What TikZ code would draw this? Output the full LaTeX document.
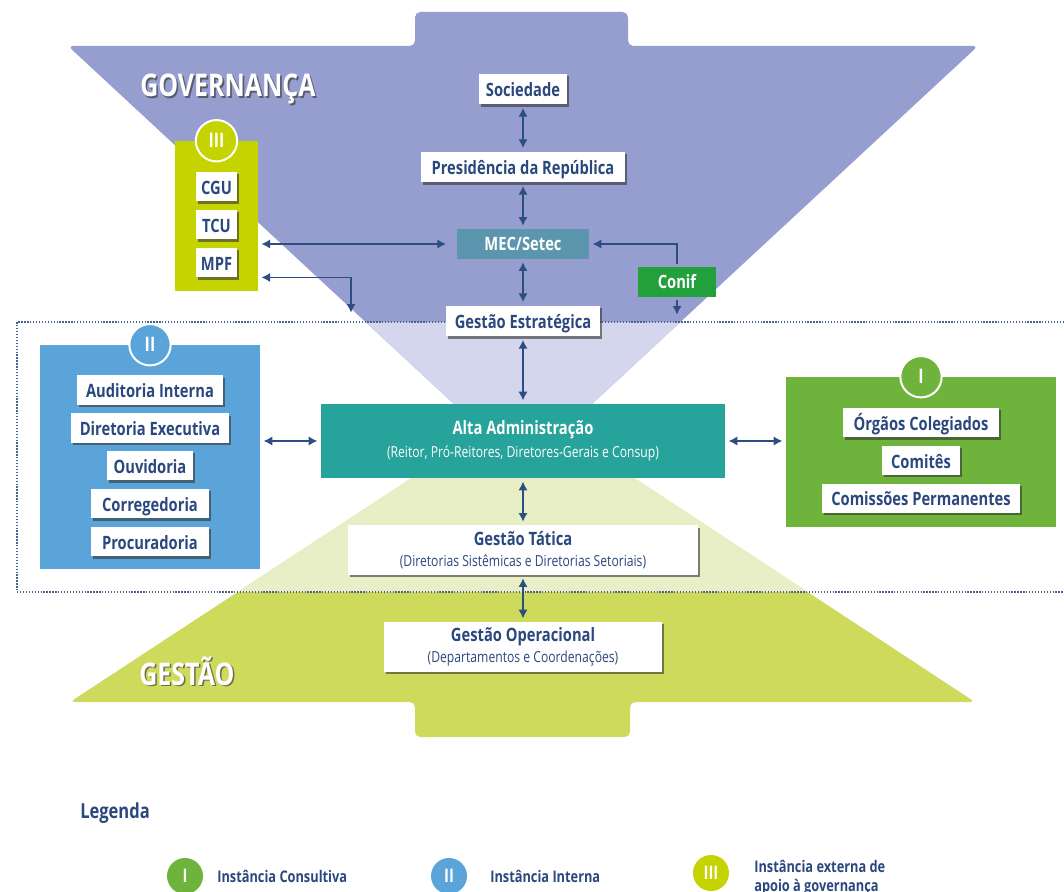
\documentclass[tikz,border=0pt]{standalone}
\usepackage{fontspec}
\setmainfont{Open Sans}[FakeStretch=0.8]
\usepackage{xcolor}
\usepackage{tikz}
\usetikzlibrary{arrows.meta}
\usetikzlibrary{calc}
\usetikzlibrary{positioning, shadows}
\definecolor{govpurple}{HTML}{969DCF}
\definecolor{govlight}{HTML}{D4D6ED}
\definecolor{gesgreen}{HTML}{CDDA5C}
\definecolor{geslight}{HTML}{E8EFC6}
\definecolor{extyellow}{HTML}{C5D400}
\definecolor{intblue}{HTML}{5BA4DA}
\definecolor{consgreen}{HTML}{6EB43C}
\definecolor{altateal}{HTML}{26A39A}
\definecolor{mecblue}{HTML}{5B95AE}
\definecolor{conifgreen}{HTML}{22A03C}
\definecolor{txtblue}{HTML}{2B487E}
\definecolor{arrowblue}{HTML}{2C4E82}
\definecolor{dotblue}{HTML}{4A6491}
\newcommand{\boxfont}{\bfseries\fontsize{13.8}{16}\selectfont}
\newcommand{\subfont}{\mdseries\fontsize{11.4}{13}\selectfont}
\tikzstyle{plate} = [fill=white, text=txtblue, font=\boxfont,
	inner xsep=3pt, inner ysep=2pt,
	drop shadow={shadow xshift=1.6pt, shadow yshift=-1.8pt, fill=black!80, opacity=0.6}]
\tikzstyle{box} = [plate, minimum height=22pt, text height=12.5pt, text depth=1pt]
\tikzstyle{twoline} = [plate, align=center]
\tikzstyle{flat} = [text=white, font=\boxfont, minimum height=22pt, inner xsep=3pt]
\tikzstyle{panel} = [inner sep=0pt]
\tikzstyle{badge} = [circle, draw=white, line width=1.5pt, minimum size=31pt,
	inner sep=0pt, text=white, font=\bfseries\fontsize{15}{15}\selectfont]
\tikzstyle{legdot} = [circle, minimum size=27pt, inner sep=0pt,
	text=white, font=\bfseries\fontsize{14}{14}\selectfont]
\tikzstyle{legtext} = [anchor=base west, inner sep=0pt, text=txtblue,
	font=\bfseries\fontsize{12}{14}\selectfont]
\tikzstyle{bigtitle} = [anchor=base west, inner sep=0pt, text=white,
	font=\bfseries\fontsize{23.4}{26}\selectfont]
\tikzstyle{arrow} = [-{Latex[length=6.5pt, width=7pt]}, line width=1.4pt,
	draw=arrowblue, shorten <=2.5pt, shorten >=2.5pt]
\tikzstyle{dblarrow} = [{Latex[length=6.5pt, width=7pt]}-{Latex[length=6.5pt, width=7pt]},
	line width=1.4pt, draw=arrowblue, shorten <=2.5pt, shorten >=2.5pt]
\tikzstyle{dotline} = [draw=dotblue, line width=0.9pt, dash pattern=on 1pt off 1.2pt]
\newcommand{\drawbadge}[4]{\node[badge, fill=#3] (#1) at #2 {#4}}
\newcommand{\drawtitle}[3]{\node[bigtitle, text=black!75, opacity=0.7] (#1shadow) at ($#2 + (1.6,1.6)$) {#3};
	\node[bigtitle] (#1) at #2 {#3}}

\begin{document}
\begin{tikzpicture}[x=0.75pt, y=-0.75pt]
	\useasboundingbox (0,0) rectangle (1064,892);
	
	\fill[govpurple, rounded corners=4pt] (523,468) -- (68,46) -- (415,46) -- (415,12)
		-- (628,12) -- (628,46) -- (978,46) -- cycle;
	\fill[govlight] (365.6,322) -- (680.4,322) -- (523,468) -- cycle;
	\fill[gesgreen, rounded corners=4pt] (523,405) -- (975,702) -- (630,702) -- (630,737)
		-- (415,737) -- (415,702) -- (70,702) -- cycle;
	\fill[geslight] (237.8,592) -- (807.6,592) -- (523,405) -- cycle;
	\draw[dotline] (1064,322) -- (17,322) -- (17,592) -- (1064,592);
	
	\drawtitle{gov}{(140,97)}{GOVERNANÇA};
	\drawtitle{ges}{(139,685)}{GESTÃO};
	
	\node (soc) [box, minimum height=23pt, minimum width=66pt] at (523,89) {Sociedade};
	\node (pres) [box, minimum height=23pt, minimum width=153pt] at (523,167) {Presidência da República};
	\node (mec) [flat, fill=mecblue, minimum width=99pt] at (523,244) {MEC/Setec};
	\node (conif) [flat, fill=conifgreen, minimum width=58pt] at (677,282) {Conif};
	\node (estr) [box, minimum height=23pt, minimum width=116pt] at (523,321) {Gestão Estratégica};
	\node (alta) [flat, fill=altateal, align=center, minimum width=303pt, minimum height=55.5pt] at (523,441)
		{Alta Administração\\[1pt]{\subfont (Reitor, Pró-Reitores, Diretores-Gerais e Consup)}};
	\node (tat) [twoline, minimum width=263pt, minimum height=37pt] at (523,550)
		{Gestão Tática\\{\subfont (Diretorias Sistêmicas e Diretorias Setoriais)}};
	\node (oper) [twoline, minimum width=208.5pt, minimum height=37.5pt] at (523,647)
		{Gestão Operacional\\{\subfont (Departamentos e Coordenações)}};
	
	\node (ext) [panel, fill=extyellow, minimum width=62pt, minimum height=112.5pt] at (216.5,216) {};
	\drawbadge{extbadge}{(ext.north)}{extyellow}{III};
	\node (cgu) [box, minimum width=31pt] at (216.5,186.5) {CGU};
	\node (tcu) [box, minimum width=31pt, below=6.1pt of cgu] {TCU};
	\node (mpf) [box, minimum width=31pt, below=6.1pt of tcu] {MPF};
	
	\node (int) [panel, fill=intblue, minimum width=165pt, minimum height=168pt] at (150,457) {};
	\drawbadge{intbadge}{(int.north)}{intblue}{II};
	\node (aud) [box, minimum width=110pt] at (150,390) {Auditoria Interna};
	\node (dir) [box, minimum width=118pt, below=6pt of aud] {Diretoria Executiva};
	\node (ouv) [box, minimum width=65pt, below=6pt of dir] {Ouvidoria};
	\node (cor) [box, minimum width=88pt, below=6pt of ouv] {Corregedoria};
	\node (proc) [box, minimum width=88pt, below=6pt of cor] {Procuradoria};
	
	\node (cons) [panel, fill=consgreen, minimum width=202.5pt, minimum height=112.5pt] at (921,452) {};
	\drawbadge{consbadge}{(cons.north)}{consgreen}{I};
	\node (org) [box, minimum width=117pt] at (921,422.5) {Órgãos Colegiados};
	\node (com) [box, minimum width=58.5pt, below=6pt of org] {Comitês};
	\node (perm) [box, minimum width=148.5pt, below=6pt of com] {Comissões Permanentes};
	
	\draw [dblarrow] (soc) -- (pres);
	\draw [dblarrow] (pres) -- (mec);
	\draw [dblarrow] (mec) -- (estr);
	\draw [dblarrow] (estr) -- (alta);
	\draw [dblarrow] (alta) -- (tat);
	\draw [dblarrow] (tat) -- (oper);
	\draw [dblarrow, shorten >=8pt] (ext.east |- mec) -- (mec);
	\coordinate (govdrop) at (351,316);
	\draw [dblarrow] (ext.east |- mpf.south) -| (govdrop);
	\draw [arrow] (conif) |- (mec);
	\coordinate (conifdrop) at (677,318);
	\draw [arrow] (conif) -- (conifdrop);
	\draw [dblarrow] (int.east |- alta) -- (alta);
	\draw [dblarrow] (alta) -- (cons.west |- alta);
	
	\node (leg) [anchor=base west, inner sep=0pt, text=txtblue,
		font=\bfseries\fontsize{15.5}{18}\selectfont] at (80,818) {Legenda};
	\node (legcons) [legdot, fill=consgreen] at (185,876) {I};
	\node (legconstxt) [legtext] at (217,882) {Instância Consultiva};
	\node (legint) [legdot, fill=intblue] at (449,876) {II};
	\node (leginttxt) [legtext] at (490,882) {Instância Interna};
	\node (legext) [legdot, fill=extyellow] at (711,873) {III};
	\node (legexttxt) [legtext, align=left] at (754,891) {Instância externa de\\apoio à governança};
\end{tikzpicture}
\end{document}
